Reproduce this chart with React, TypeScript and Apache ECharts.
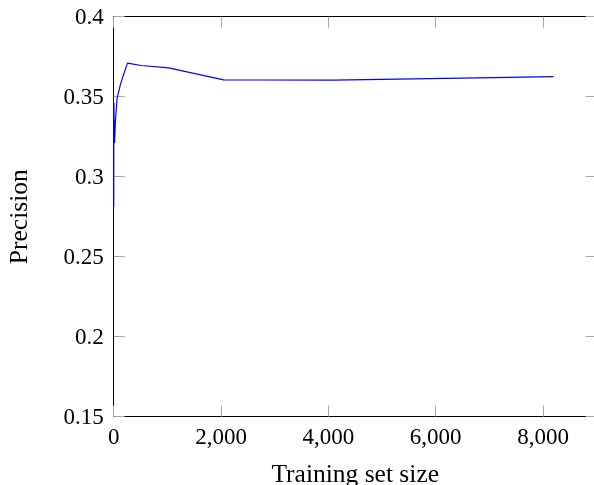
import React, { useEffect, useRef } from "react";
import * as echarts from "echarts";

const trainingSizes = [1, 2, 4, 8, 16, 32, 64, 128, 256, 512, 1024, 2048, 4096, 8192];
const precision = [0.281, 0.321, 0.346, 0.332, 0.321, 0.335, 0.349, 0.358, 0.371, 0.3695, 0.368, 0.3605, 0.3603, 0.3625];
const xTicks = { min: 0, max: 9000, interval: 2000 };
const yTicks = { min: 0.15, max: 0.4, interval: 0.05 };

const FONT = "'Liberation Serif', 'DejaVu Serif', serif";
const TICK_COLOR = "#a6a6a6";

export default function App() {
  const ref = useRef<HTMLDivElement>(null);
  useEffect(() => {
    if (!ref.current) return;
    document.documentElement.style.overflow = "hidden";
    document.body.style.margin = "0";
    document.body.style.overflow = "hidden";
    const chart = echarts.init(ref.current, undefined, { renderer: "svg", width: 594, height: 485 });
    const axisLine = { show: true, onZero: false, lineStyle: { color: "#000", width: 1 } };
    const axisTick = { show: true, inside: true, length: 11, lineStyle: { color: TICK_COLOR, width: 1 } };
    const fmtX = (v: number) => (v === xTicks.max ? "" : v.toLocaleString("en-US"));
    const fmtY = (v: number) => String(+v.toFixed(2));
    chart.setOption({
      animation: false,
      grid: {
        left: 113.7,
        top: 16.7,
        width: 483,
        height: 400,
        containLabel: false,
        outerBoundsMode: "none",
      },
      xAxis: [
        {
          type: "value",
          min: xTicks.min,
          max: xTicks.max,
          interval: xTicks.interval,
          position: "bottom",
          axisLine,
          axisTick,
          splitLine: { show: false },
          axisLabel: { formatter: fmtX, color: "#000", fontFamily: FONT, fontSize: 23, margin: 8, showMaxLabel: false },
          name: "Training set size",
          nameLocation: "middle",
          nameGap: 44,
          nameTextStyle: { color: "#000", fontFamily: FONT, fontSize: 25.5 },
        },
        {
          type: "value",
          min: xTicks.min,
          max: xTicks.max,
          interval: xTicks.interval,
          position: "top",
          axisLine,
          axisTick,
          splitLine: { show: false },
          axisLabel: { show: false },
        },
      ],
      yAxis: [
        {
          type: "value",
          min: yTicks.min,
          max: yTicks.max,
          interval: yTicks.interval,
          position: "left",
          axisLine,
          axisTick,
          splitLine: { show: false },
          axisLabel: { formatter: fmtY, color: "#000", fontFamily: FONT, fontSize: 23, margin: 10 },
          name: "Precision",
          nameLocation: "middle",
          nameGap: 82,
          nameTextStyle: { color: "#000", fontFamily: FONT, fontSize: 25.5 },
        },
        {
          type: "value",
          min: yTicks.min,
          max: yTicks.max,
          interval: yTicks.interval,
          position: "right",
          axisLine,
          axisTick,
          splitLine: { show: false },
          axisLabel: { show: false },
        },
      ],
      series: [
        {
          type: "line",
          data: trainingSizes.map((s, i) => [s, precision[i]]),
          showSymbol: false,
          symbol: "none",
          lineStyle: { color: "#0000ff", width: 1.2 },
          itemStyle: { color: "#0000ff" },
          xAxisIndex: 0,
          yAxisIndex: 0,
        },
      ],
    });
    return () => chart.dispose();
  }, []);
  return <div ref={ref} style={{ position: "fixed", left: 0, top: 0, width: 594, height: 485, overflow: "hidden" }} />;
}
